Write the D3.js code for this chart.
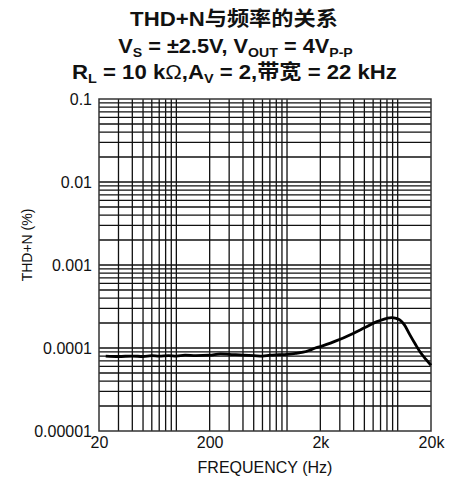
<!DOCTYPE html>
<html>
<head>
<meta charset="utf-8">
<script src="https://d3js.org/d3.v7.min.js"></script>
<style>
  body { margin: 0; background: #fff; }
  text { font-family: "Liberation Sans", Arial, "Noto Sans CJK SC", sans-serif; fill: #111; }
</style>
</head>
<body>
<div id="chart"></div>
<script>
// curve
const freqs = [23, 30, 40, 50, 60, 70, 85, 100, 120, 150, 200, 250, 300, 400, 500, 600, 700, 850, 1000, 1200, 1400, 1600, 1800, 2000, 2700, 4000, 5000, 6500, 8000, 8800, 9700, 10500, 11500, 12900, 14500, 15900, 18000, 20000];
const thdn = [8.0e-5, 7.9e-5, 8.0e-5, 7.9e-5, 8.1e-5, 8.0e-5, 8.1e-5, 8.0e-5, 8.2e-5, 8.1e-5, 8.2e-5, 8.5e-5, 8.4e-5, 8.2e-5, 8.1e-5, 8.0e-5, 8.2e-5, 8.3e-5, 8.4e-5, 8.6e-5, 8.9e-5, 9.4e-5, 1.0e-4, 1.04e-4, 1.2e-4, 1.51e-4, 1.75e-4, 2.08e-4, 2.28e-4, 2.32e-4, 2.27e-4, 2.17e-4, 1.9e-4, 1.44e-4, 1.1e-4, 9.0e-5, 7.3e-5, 6.2e-5];

const xTicks = [20, 200, 2000, 20000];
const xTickLabels = ["20", "200", "2k", "20k"];
const yTicks = [0.1, 0.01, 0.001, 0.0001, 0.00001];
const yTickLabels = ["0.1", "0.01", "0.001", "0.0001", "0.00001"];

const width = 456, height = 482;
const margin = { top: 99, right: 25, bottom: 51, left: 99 };
const w = width - margin.left - margin.right;
const h = height - margin.top - margin.bottom;

const svg = d3.select("#chart").append("svg")
    .attr("width", width)
    .attr("height", height);

// title, three lines with subscripts
const title = svg.append("g")
    .attr("font-weight", "bold")
    .attr("font-size", 20)
    .attr("text-anchor", "middle");

const t1 = title.append("text").attr("y", 26).text("THD+N与频率的关系");

const t2 = title.append("text").attr("y", 53);
t2.append("tspan").text("V");
t2.append("tspan").attr("font-size", 13).attr("dy", 4).text("S");
t2.append("tspan").attr("dy", -4).text(" = ±2.5V, V");
t2.append("tspan").attr("font-size", 13).attr("dy", 4).text("OUT");
t2.append("tspan").attr("dy", -4).text(" = 4V");
t2.append("tspan").attr("font-size", 13).attr("dy", 4).text("P-P");

const t3 = title.append("text").attr("y", 79);
t3.append("tspan").text("R");
t3.append("tspan").attr("font-size", 13).attr("dy", 4).text("L");
t3.append("tspan").attr("dy", -4).text(" = 10 k");
t3.append("tspan").attr("font-weight", "normal").text("Ω");
t3.append("tspan").text(",A");
t3.append("tspan").attr("font-size", 13).attr("dy", 4).text("V");
t3.append("tspan").attr("dy", -4).text(" = 2,带宽 = 22 kHz");

// squeeze each line to the width it has in the original
[[t1, 234, 208], [t2, 235.5, 235], [t3, 234.5, 325]].forEach(([t, cx, tw]) => {
    const bw = t.node().getBBox().width;
    t.attr("transform", `translate(${cx},0) scale(${tw / bw},1)`);
});

const g = svg.append("g")
    .attr("transform", `translate(${margin.left},${margin.top})`);

const x = d3.scaleLog().domain([20, 20000]).range([0, w]);
const y = d3.scaleLog().domain([0.00001, 0.1]).range([h, 0]);

// grid: 1..9 in each decade
const xGrid = [];
for (let d = 10; d <= 10000; d *= 10)
    for (let k = 1; k <= 9; k++) {
        const v = d * k;
        if (v > 20 && v < 20000) xGrid.push(v);
    }
const yGrid = [];
for (let d = 0.00001; d < 0.1; d *= 10)
    for (let k = 2; k <= 10; k++) {
        const v = d * k;
        if (v < 0.099) yGrid.push(v);
    }

g.selectAll(".vgrid").data(xGrid).enter().append("line")
    .attr("x1", d => x(d)).attr("x2", d => x(d))
    .attr("y1", 0).attr("y2", h)
    .attr("stroke", "#111").attr("stroke-width", 1.3);

g.selectAll(".hgrid").data(yGrid).enter().append("line")
    .attr("x1", 0).attr("x2", w)
    .attr("y1", d => y(d)).attr("y2", d => y(d))
    .attr("stroke", "#111").attr("stroke-width", 1.3);

g.append("rect")
    .attr("width", w).attr("height", h)
    .attr("fill", "none")
    .attr("stroke", "#333").attr("stroke-width", 1.5);

// axes (labels only, lines drawn by the grid)
const xAxis = g.append("g")
    .attr("transform", `translate(0,${h})`)
    .call(d3.axisBottom(x).tickValues(xTicks)
        .tickFormat((d, i) => xTickLabels[i]).tickSize(0).tickPadding(6));
const yAxis = g.append("g")
    .call(d3.axisLeft(y).tickValues(yTicks)
        .tickFormat((d, i) => yTickLabels[i]).tickSize(0).tickPadding(7));
[xAxis, yAxis].forEach(a => {
    a.select(".domain").remove();
    a.selectAll("text")
        .attr("font-size", 16)
        .attr("font-family", "Liberation Sans, Arial, sans-serif")
        .attr("fill", "#111");
});

// curve
const line = d3.line()
    .x((d, i) => x(freqs[i]))
    .y(d => y(d))
    .curve(d3.curveMonotoneX);

g.append("path")
    .datum(thdn)
    .attr("fill", "none")
    .attr("stroke", "#000")
    .attr("stroke-width", 2.8)
    .attr("stroke-linejoin", "round")
    .attr("d", line);

// axis titles
svg.append("text")
    .attr("x", 265).attr("y", 473)
    .attr("text-anchor", "middle")
    .attr("font-size", 16)
    .text("FREQUENCY (Hz)");

svg.append("text")
    .attr("transform", "translate(32,245) rotate(-90)")
    .attr("text-anchor", "middle")
    .attr("font-size", 14)
    .text("THD+N (%)");
</script>
</body>
</html>
